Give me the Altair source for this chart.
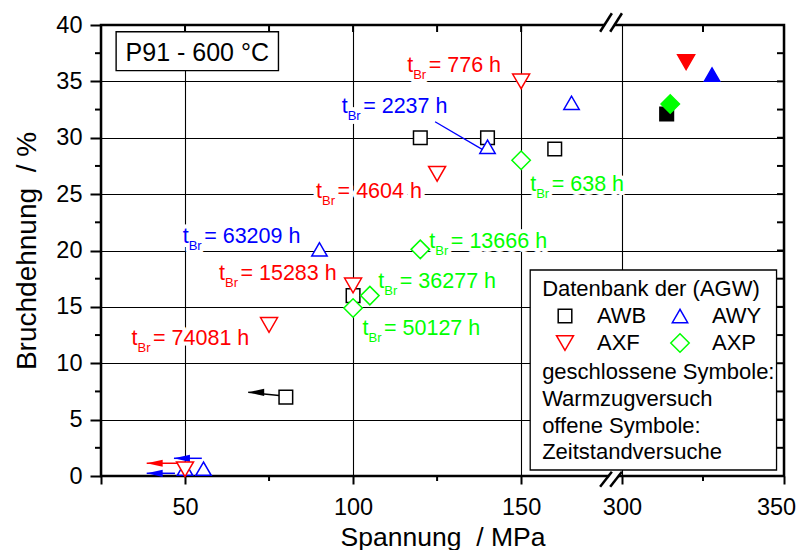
import altair as alt
import pandas as pd

FONT = "Liberation Sans"

# ---------------- data ----------------
SERIES = ["AWB", "AWY", "AXF", "AXP"]
SERIES_COLORS = ["#000000", "#0000ff", "#ff0000", "#00ff00"]
SERIES_SHAPES = ["square", "triangle-up", "triangle-down", "diamond"]
SERIES_SIZES = [185, 340, 340, 320]
COLOR_OF = dict(zip(SERIES, SERIES_COLORS))

# creep tests (open symbols)
open_series = ["AWB"] * 5 + ["AWY"] * 5 + ["AXF"] * 5 + ["AXP"] * 4
open_stress = [120, 140, 160, 100, 80,
               140, 165, 90, 50, 55.5,
               150, 125, 100, 75, 50,
               150, 120, 105, 100]
open_elong = [30, 30, 29, 16, 7,
              29.2, 33.1, 20.1, 0.65, 0.65,
              35, 26.8, 16.9, 13.4, 0.6,
              28, 20.1, 16, 14.9]

# hot tensile tests (closed symbols)
closed_series = ["AWB", "AWY", "AXF", "AXP"]
closed_stress = [313.8, 327.8, 319.8, 314.9]
closed_elong = [32.1, 35.6, 36.7, 33.0]

# rupture time labels
label_series = ["AXF", "AWY", "AXF", "AXP", "AWY", "AXP", "AXF", "AXP", "AXF", "AXP"]
label_hours = ["776", "2237", "4604", "638", "63209", "13666", "15283", "36277", "74081", "50127"]
label_stress = [116.1, 96.6, 89.0, 152.7, 49.3, 122.7, 60.1, 107.5, 34.1, 102.8]
label_elong = [35.83, 32.2, 24.66, 25.28, 20.64, 20.19, 17.38, 16.65, 11.62, 12.5]

# connector line for t_Br = 2237 h
conn_series = ["AWY"]
conn_s = [124.4]
conn_e = [31.42]
conn_s2 = [138.8]
conn_e2 = [28.9]

# run-out arrows
arrow_series = ["AWB", "AXF", "AWY", "AWY"]
arrow_from_s = [78.0, 52.4, 55.0, 47.0]
arrow_from_e = [7.15, 1.13, 1.57, 0.24]
arrow_to_s = [68.8, 38.6, 46.7, 38.6]
arrow_to_e = [7.42, 1.13, 1.57, 0.24]

# legend box texts
legend_lines = ["Datenbank der (AGW)", "geschlossene Symbole:", "Warmzugversuch",
                "offene Symbole:", "Zeitstandversuche"]
legend_line_e = [15.96, 8.6, 6.21, 3.84, 1.51]

# axis ticks
x_major = [25, 50, 100, 150, 300, 350]
x_minor = [75, 125, 325]
x_top = [50, 75, 100, 125, 150, 325]
y_major = [0, 5, 10, 15, 20, 25, 30, 35, 40]
y_minor = [2.5, 7.5, 12.5, 17.5, 22.5, 27.5, 32.5, 37.5]
y_right = [2.5, 5, 7.5, 10, 12.5, 15, 17.5, 20, 22.5, 25, 27.5, 30, 32.5, 35, 37.5]

# ---------------- broken x axis ----------------
R = 3.24 / 3.36
XMAX = 180 + 50 * R


def to_xp(s):
    return s if s <= 180 else 180 + (s - 300) * R


XP = f"datum.s <= 180 ? datum.s : 180 + (datum.s - 300) * {R}"
XP2 = f"datum.s2 <= 180 ? datum.s2 : 180 + (datum.s2 - 300) * {R}"

W, H = 683, 451
NB = "\u00a0"

x_scale = alt.Scale(domain=[25, XMAX], nice=False, zero=False)
y_scale = alt.Scale(domain=[0, 40], nice=False, zero=False)
color_scale = alt.Scale(domain=SERIES, range=SERIES_COLORS)
shape_scale = alt.Scale(domain=SERIES, range=SERIES_SHAPES)
size_scale = alt.Scale(domain=SERIES, range=SERIES_SIZES)

x_axis = alt.Axis(
    values=[to_xp(v) for v in x_major],
    labelExpr=f"datum.value < 30 ? '' : datum.value > {XMAX - 1} ? '350' : (datum.value > 179 && datum.value < 181) ? '300' : datum.label",
    tickSize=8, tickWidth=2, tickColor="black",
    labelFontSize=23.5, labelFont=FONT, labelColor="black", labelPadding=30.7,
    labelBaseline="alphabetic", labelFlush=False, labelOverlap=False,
    labelOffset={"condition": {"test": f"datum.value > {XMAX - 1}", "value": -8}, "value": 0},
    title=f"Spannung {NB}/ MPa", titleFontSize=26.5, titleFont=FONT, titleFontWeight="normal",
    titleColor="black", titleY=69, titleBaseline="alphabetic",
    grid=True, gridColor="black", gridWidth=1.1, gridOpacity=1, domain=False,
)
y_axis = alt.Axis(
    values=y_major, tickSize=11, tickWidth=2, tickColor="black",
    labelFontSize=23.5, labelFont=FONT, labelColor="black", labelPadding=8,
    labelOverlap=False, labelFlush=False,
    title=f"Bruchdehnung {NB}/ %", titleFontSize=28, titleFont=FONT, titleFontWeight="normal",
    titleColor="black", titleX=-66, titleBaseline="alphabetic",
    grid=True, gridColor="black", gridWidth=1.1, gridOpacity=1, domain=False,
)

X = alt.X("xp:Q", scale=x_scale, axis=x_axis)
Y = alt.Y("e:Q", scale=y_scale, axis=y_axis)
Y2E = alt.Y("e2:Q", scale=y_scale, axis=y_axis)
LITCOL = alt.Color("col:N", scale=None)

labels_df = pd.DataFrame({"series": label_series, "hours": label_hours,
                          "s": label_stress, "e": label_elong,
                          "col": [COLOR_OF[s] for s in label_series]})

MAIN_FS = 21.5
SUB_FS = 13
T_W = 6.0
REST_DX = 21.5


def label_part(text_expr, dx, dy, fs, halo):
    kw = dict(align="left", baseline="alphabetic", font=FONT, fontSize=fs, dx=dx, dy=dy)
    if halo:
        kw.update(fill="white", stroke="white", strokeWidth=8, strokeJoin="round")
    ch = alt.Chart(labels_df).transform_calculate(xp=XP, txt=text_expr).mark_text(**kw)
    enc = dict(x=X, y=Y, text="txt:N")
    if not halo:
        enc["color"] = LITCOL
    return ch.encode(**enc)


rest_expr = "' = ' + datum.hours + ' h'"
halo_rest = label_part(rest_expr, REST_DX, 0, MAIN_FS, True)
halo_t = label_part("'t'", 0, 0, MAIN_FS, True)
halo_sub = label_part("'Br'", T_W, 7, SUB_FS, True)
txt_t = label_part("'t'", 0, 0, MAIN_FS, False)
txt_sub = label_part("'Br'", T_W, 7, SUB_FS, False)
txt_rest = label_part(rest_expr, REST_DX, 0, MAIN_FS, False)

# P91 box
p91_df = pd.DataFrame({"s": [29.5], "s2": [77.8], "e": [35.95], "e2": [39.4]})
p91_box = alt.Chart(p91_df).transform_calculate(xp=XP, xp2=XP2).mark_rect(
    fill="white", stroke="black", strokeWidth=1.4
).encode(x=X, x2="xp2:Q", y=Y, y2="e2:Q")
p91_txt_df = pd.DataFrame({"s": [53.65], "e": [36.83], "t": ["P91 - 600 °C"]})
p91_txt = alt.Chart(p91_txt_df).transform_calculate(xp=XP).mark_text(
    align="center", baseline="alphabetic", font=FONT, fontSize=25, color="black"
).encode(x=X, y=Y, text="t:N")

# connector
conn_df = pd.DataFrame({"s": conn_s, "e": conn_e, "s2": conn_s2, "e2": conn_e2,
                        "col": [COLOR_OF[s] for s in conn_series]})
conn = alt.Chart(conn_df).transform_calculate(xp=XP, xp2=XP2).mark_rule(strokeWidth=1.3).encode(
    x=X, x2="xp2:Q", y=Y, y2="e2:Q", color=LITCOL
)

# arrows
arrow_df = pd.DataFrame({"s": arrow_from_s, "e": arrow_from_e,
                         "s2": arrow_to_s, "e2": arrow_to_e,
                         "col": [COLOR_OF[s] for s in arrow_series]})
arrow_lines = alt.Chart(arrow_df).transform_calculate(xp=XP, xp2=XP2).mark_rule(strokeWidth=1.5).encode(
    x=X, x2="xp2:Q", y=Y, y2="e2:Q", color=LITCOL
)
arrow_heads = alt.Chart(arrow_df).transform_calculate(xp=XP2).mark_point(
    shape="M0,0L2,-0.45L2,0.45Z", size=256, filled=True, opacity=1
).encode(x=X, y=Y2E, color=LITCOL)

# data points (open = creep, closed = hot tensile), one layer
pts_df = pd.DataFrame({
    "series": open_series + closed_series,
    "s": open_stress + closed_stress,
    "e": open_elong + closed_elong,
    "fillcol": ["white"] * len(open_series) + [COLOR_OF[s] for s in closed_series],
})

leg = alt.Legend(
    title=None, orient="none", legendX=453, legendY=280, columns=2, direction="horizontal",
    symbolSize=300, symbolStrokeWidth=1.5, symbolFillColor="white",
    labelFontSize=22, labelFont=FONT, labelColor="black", labelOffset=21,
    columnPadding=20, rowPadding=3, padding=0, zindex=1,
)

pts = alt.Chart(pts_df).transform_calculate(xp=XP).mark_point(
    filled=False, strokeWidth=1.5, opacity=1
).encode(
    x=X, y=Y,
    color=alt.Color("series:N", scale=color_scale, legend=leg),
    shape=alt.Shape("series:N", scale=shape_scale, legend=leg),
    size=alt.Size("series:N", scale=size_scale, legend=None),
    fill=alt.Fill("fillcol:N", scale=None),
)

# legend box
lbox_df = pd.DataFrame({"s": [152.7], "s2": [347.7], "e": [0.53], "e2": [18.27]})
lbox = alt.Chart(lbox_df).transform_calculate(xp=XP, xp2=XP2).mark_rect(
    fill="white", stroke="black", strokeWidth=1.3
).encode(x=X, x2="xp2:Q", y=Y, y2="e2:Q")
ltxt_df = pd.DataFrame({"s": [156.25] * len(legend_lines), "e": legend_line_e, "t": legend_lines})
ltxt = alt.Chart(ltxt_df).transform_calculate(xp=XP).mark_text(
    align="left", baseline="alphabetic", font=FONT, fontSize=22, color="black"
).encode(x=X, y=Y, text="t:N")

# extra ticks
left_minor = alt.Chart(pd.DataFrame({"e": y_minor})).mark_rule(color="black", strokeWidth=2).encode(
    y=Y, x=alt.value(-6), x2=alt.value(0))
right_ticks = alt.Chart(pd.DataFrame({"e": y_right})).mark_rule(color="black", strokeWidth=2).encode(
    y=Y, x=alt.value(W - 7), x2=alt.value(W))
top_ticks = alt.Chart(pd.DataFrame({"s": x_top})).transform_calculate(xp=XP).mark_rule(
    color="black", strokeWidth=2).encode(x=X, y=alt.value(0), y2=alt.value(7))
bottom_minor = alt.Chart(pd.DataFrame({"s": x_minor})).transform_calculate(xp=XP).mark_rule(
    color="black", strokeWidth=2).encode(x=X, y=alt.value(H), y2=alt.value(H + 5))

# axis break marks
gap_df = pd.DataFrame({"s": [174.9, 176.2], "s2": [177.7, 178.8], "e": [40, 0], "e2": [40, 0]})
gaps = alt.Chart(gap_df).transform_calculate(xp=XP, xp2=XP2).mark_rule(
    color="white", strokeWidth=5).encode(x=X, x2="xp2:Q", y=Y, y2="e2:Q")
slash_df = pd.DataFrame({
    "s": [173.5, 176.5, 173.5, 176.5],
    "e": [39.4, 39.4, -0.95, -0.95],
    "s2": [177.0, 180.0, 177.0, 180.0],
    "e2": [41.04, 41.04, 0.38, 0.38],
})
slashes = alt.Chart(slash_df).transform_calculate(xp=XP, xp2=XP2).mark_rule(
    color="black", strokeWidth=2.5).encode(x=X, x2="xp2:Q", y=Y, y2="e2:Q")

chart = alt.layer(
    halo_rest, halo_t, halo_sub,
    p91_box, p91_txt,
    conn, arrow_lines, arrow_heads,
    txt_t, txt_sub, txt_rest,
    pts,
    lbox, ltxt,
    left_minor, right_ticks, top_ticks, bottom_minor,
    gaps, slashes,
).properties(
    width=W, height=H,
    autosize=alt.AutoSizeParams(type="none"),
    padding={"left": 93, "top": 17, "right": 13, "bottom": 74},
).configure_view(
    stroke="black", strokeWidth=2.5
)

chart.save("out.html", embed_options={"renderer": "svg", "actions": False})
